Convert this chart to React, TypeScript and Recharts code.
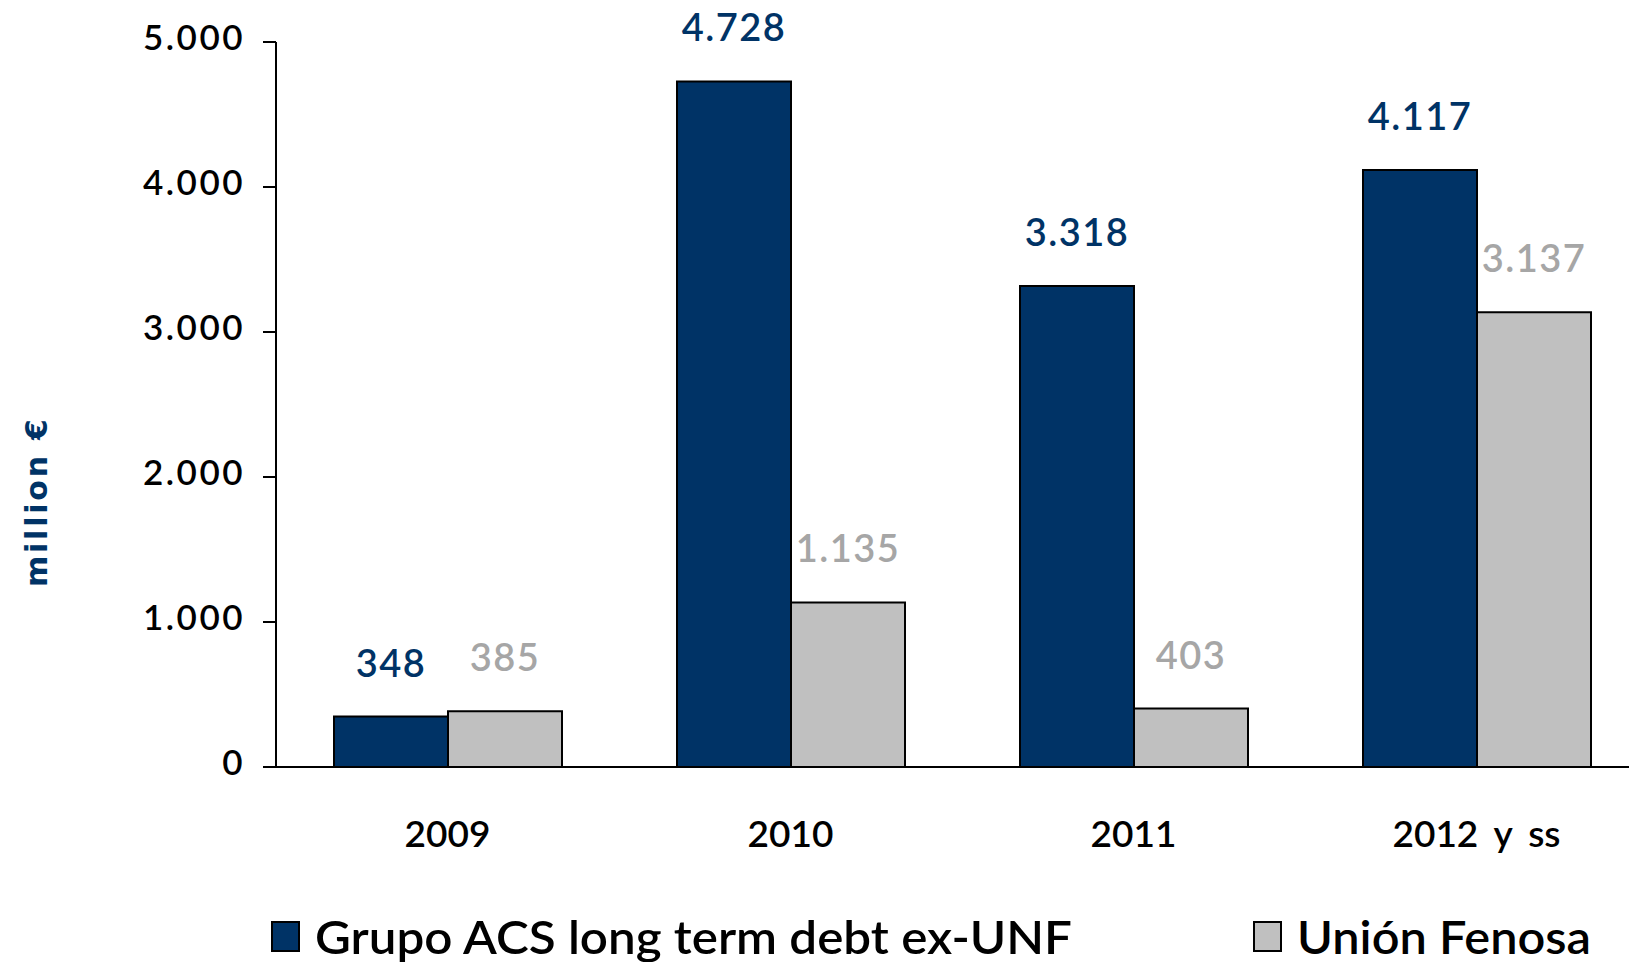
import { Bar, BarChart, LabelList, Legend, XAxis, YAxis } from "recharts";

const years = ["2009", "2010", "2011", "2012 y ss"];
const acsDebt = [348, 4728, 3318, 4117];
const unionFenosa = [385, 1135, 403, 3137];
const yTicks = [0, 1000, 2000, 3000, 4000, 5000];
const boundaryTicks = [0, 1, 2, 3, 4];
const seriesNames = ["Grupo ACS long term debt ex-UNF", "Unión Fenosa"];

const NAVY = "#003366";
const GREY = "#c0c0c0";
const GREY_TEXT = "#a6a6a6";
const FONT = "Lato, 'DejaVu Sans', sans-serif";
const WEIGHT = 600;

const data = years.map((year, i) => ({ year, acs: acsDebt[i], unf: unionFenosa[i] }));

const thousands = (v: number) => String(v).replace(/\B(?=(\d{3})+(?!\d))/g, ".");

function DebtLegend() {
  return (
    <svg width={1629} height={50} style={{ display: "block" }}>
      <rect x={272} y={10} width={27} height={29} fill={NAVY} stroke="#000" strokeWidth={2} />
      <text x={315} y={42} fontFamily={FONT} fontWeight={WEIGHT} fontSize={47} fill="#000" textLength={757} lengthAdjust="spacingAndGlyphs">
        {seriesNames[0]}
      </text>
      <rect x={1254} y={10} width={27} height={29} fill={GREY} stroke="#000" strokeWidth={2} />
      <text x={1297} y={42} fontFamily={FONT} fontWeight={WEIGHT} fontSize={47} fill="#000" textLength={294} lengthAdjust="spacingAndGlyphs">
        {seriesNames[1]}
      </text>
    </svg>
  );
}

export default function App() {
  return (
    <div style={{ position: "fixed", left: 0, top: 0, width: 1629, height: 962, overflow: "hidden", background: "#fff" }}>
      <BarChart width={1648} height={962} data={data} margin={{ top: 42, right: 0, left: 0, bottom: 0 }} barGap={0}>
        <XAxis
          xAxisId={0}
          type="number"
          domain={[0, 4]}
          ticks={boundaryTicks}
          allowDataOverflow
          tick={false}
          tickSize={12}
          height={12}
          axisLine={{ stroke: "#000", strokeWidth: 2 }}
          tickLine={{ stroke: "#000", strokeWidth: 2 }}
        />
        <XAxis
          xAxisId="cat"
          dataKey="year"
          interval={0}
          height={133}
          axisLine={false}
          tickLine={false}
          tickSize={0}
          tickMargin={42}
          tick={{ fontFamily: FONT, fontWeight: WEIGHT, fontSize: 37, fill: "#000", wordSpacing: 7 }}
        />
        <YAxis
          width={276}
          domain={[0, 5000]}
          ticks={yTicks}
          tickFormatter={thousands}
          tickSize={13}
          tickMargin={18}
          axisLine={{ stroke: "#000", strokeWidth: 2 }}
          tickLine={{ stroke: "#000", strokeWidth: 2 }}
          tick={{ fontFamily: FONT, fontWeight: WEIGHT, fontSize: 35, fill: "#000", letterSpacing: 2.5, dy: -4 }}
          label={{
            position: "center",
            content: () => (
              <text
                x={47}
                y={503}
                transform="rotate(-90 47 503)"
                textAnchor="middle"
                fontFamily="'DejaVu Sans', sans-serif"
                fontWeight="bold"
                fontSize={30}
                fill={NAVY}
                textLength={168}
                lengthAdjust="spacing"
              >
                million €
              </text>
            ),
          }}
        />
        <Legend verticalAlign="bottom" align="left" content={<DebtLegend />} wrapperStyle={{ left: 0, bottom: 0 }} />
        <Bar xAxisId="cat" dataKey="acs" name={seriesNames[0]} fill={NAVY} stroke="#000" strokeWidth={2} barSize={114} isAnimationActive={false}>
          <LabelList
            dataKey="acs"
            position="top"
            offset={40}
            formatter={(v: any) => thousands(Number(v))}
            style={{ fontFamily: FONT, fontWeight: WEIGHT, fontSize: 38, fill: NAVY, letterSpacing: 1.5 }}
          />
        </Bar>
        <Bar xAxisId="cat" dataKey="unf" name={seriesNames[1]} fill={GREY} stroke="#000" strokeWidth={2} barSize={114} isAnimationActive={false}>
          <LabelList
            dataKey="unf"
            position="top"
            offset={40}
            formatter={(v: any) => thousands(Number(v))}
            style={{ fontFamily: FONT, fontWeight: WEIGHT, fontSize: 38, fill: GREY_TEXT, letterSpacing: 1.5 }}
          />
        </Bar>
      </BarChart>
    </div>
  );
}
